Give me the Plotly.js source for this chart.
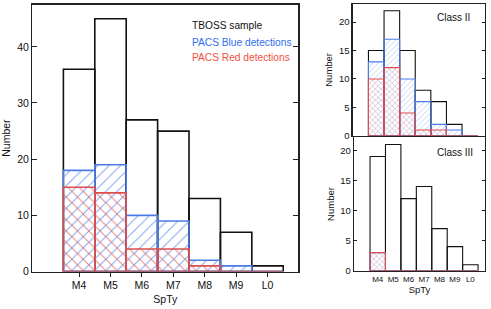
<!DOCTYPE html>
<html><head><meta charset="utf-8">
<script src="https://cdn.plot.ly/plotly-3.0.1.min.js"></script>
<style>html,body{margin:0;padding:0;background:#fff}#plot{width:491px;height:309px}</style>
</head><body><div id="plot"></div>
<script>
// ---- data ----
const categories = ["M4","M5","M6","M7","M8","M9","L0"];
// full sample (left)
const allTboss = [36,45,27,25,13,7,1];
const allBlue  = [18,19,10,9,2,1,0];
const allRed   = [15,14,4,4,1,0,0];
// Class II (top right)
const c2Tboss = [15,22,15,8,6,2,0];
const c2Blue  = [13,17,10,6,2,1,0];
const c2Red   = [10,12,4,1,1,0,0];
// Class III (bottom right)
const c3Tboss = [19,21,12,14,7,4,1];
const c3Blue  = [3,0,0,0,0,0,0];
const c3Red   = [3,0,0,0,0,0,0];
const leftYTicks = [0,10,20,30,40];
const rightYTicks = [0,5,10,15,20];
const edgeTicks = [0.5,2.5,4.5,6.5];

const idx = categories.map((c,i)=>i);
const BLUE = '#4a7ce6', RED = '#dc4d4d';
const FONT = 'Liberation Sans, Arial, sans-serif';

function hist(vals, xa, ya, kind, big){
  const lw = big ? 1.6 : 1.1;
  const psize = big ? 8 : 4;
  let marker;
  if(kind==='t') marker = {color:'rgba(0,0,0,0)', line:{color:'#111', width:lw}};
  else if(kind==='b') marker = {color:'rgba(0,0,0,0)', line:{color:BLUE, width:lw},
      pattern:{shape:'/', fgcolor:BLUE, bgcolor:'rgba(0,0,0,0)', size:psize, solidity:0.12, fgopacity:0.7}};
  else marker = {color:'rgba(0,0,0,0)', line:{color:RED, width:lw},
      pattern:{shape:'\\', fgcolor:RED, bgcolor:'rgba(0,0,0,0)', size:psize, solidity:0.12, fgopacity:0.7}};
  return {type:'bar', x:idx, y:vals, width:1, xaxis:xa, yaxis:ya, marker, hoverinfo:'skip', showlegend:false};
}

const data = [
  hist(allTboss,'x','y','t',true), hist(allBlue,'x','y','b',true), hist(allRed,'x','y','r',true),
  hist(c2Tboss,'x2','y2','t',false), hist(c2Blue,'x2','y2','b',false), hist(c2Red,'x2','y2','r',false),
  hist(c3Tboss,'x3','y3','t',false), hist(c3Blue,'x3','y3','b',false), hist(c3Red,'x3','y3','r',false),
];

const frame = {showline:true, linecolor:'#222', linewidth:1.3, mirror:true, showgrid:false, zeroline:false, fixedrange:true};
function yax(domain, range, ticks, fs, len, anchor){
  return Object.assign({}, frame, {domain, range, tickvals:ticks, ticks:'inside', ticklen:len, tickcolor:'#222',
    mirror:'ticks', anchor, tickfont:{family:FONT,size:fs,color:'#111'},
    title:{text:'Number', font:{family:FONT,size:fs,color:'#111'}, standoff:4}});
}
function xover(domain, range, anchor, overlaying, len){
  return {domain, range, anchor, overlaying, tickvals:edgeTicks, ticks:'inside', ticklen:len, tickcolor:'#222',
    mirror:'ticks', showticklabels:false, showline:false, showgrid:false, zeroline:false, fixedrange:true};
}
const dL=[32.3/491, 298.3/491], rL=[-1.49, 6.98];
const d2=[352.7/491, 484.5/491], r2=[-1.51, 6.94];
const d3=[354/491, 485/491], r3=[-1.54, 6.95];

const layout = {
  width:491, height:309, margin:{l:0,r:0,t:0,b:0}, paper_bgcolor:'#fff', plot_bgcolor:'rgba(0,0,0,0)',
  barmode:'overlay', bargap:0, showlegend:false, font:{family:FONT},
  xaxis: Object.assign({}, frame, {domain:dL, range:rL, anchor:'y', tickvals:idx, ticktext:categories,
    ticks:'outside', ticklen:4, tickcolor:'#222', tickfont:{family:FONT,size:10.5,color:'#111'},
    title:{text:'SpTy', font:{family:FONT,size:10.5,color:'#111'}, standoff:5}}),
  yaxis: yax([(309-271.5)/309, (309-4.7)/309], [0,47.5], leftYTicks, 10.5, 5, 'x'),
  xaxis2: Object.assign({}, frame, {domain:d2, range:r2, anchor:'y2', tickvals:idx, showticklabels:false, ticks:''}),
  yaxis2: yax([(309-135.7)/309, (309-4)/309], [0,23.2], rightYTicks, 9.5, 3, 'x2'),
  xaxis3: Object.assign({}, frame, {domain:d3, range:r3, anchor:'y3', tickvals:idx, ticktext:categories,
    ticks:'', tickfont:{family:FONT,size:8,color:'#111'},
    title:{text:'SpTy', font:{family:FONT,size:9.5,color:'#111'}, standoff:3}}),
  yaxis3: yax([(309-270.7)/309, (309-137.3)/309], [0,22.2], rightYTicks, 9.5, 3, 'x3'),
  xaxis4: xover(dL, rL, 'y', 'x', 5),
  xaxis5: xover(d2, r2, 'y2', 'x2', 3),
  xaxis6: xover(d3, r3, 'y3', 'x3', 3),
  annotations: [
    {text:'TBOSS sample', x:190/491, y:(309-25)/309, xref:'paper', yref:'paper', xanchor:'left', yanchor:'middle', showarrow:false, font:{family:FONT,size:10.2,color:'#111'}},
    {text:'PACS Blue detections', x:190/491, y:(309-42.7)/309, xref:'paper', yref:'paper', xanchor:'left', yanchor:'middle', showarrow:false, font:{family:FONT,size:10.2,color:'#2f6cf0'}},
    {text:'PACS Red detections', x:190/491, y:(309-57.7)/309, xref:'paper', yref:'paper', xanchor:'left', yanchor:'middle', showarrow:false, font:{family:FONT,size:10.2,color:'#f0503c'}},
    {text:'Class II', x:472/491, y:(309-17)/309, xref:'paper', yref:'paper', xanchor:'right', yanchor:'middle', showarrow:false, font:{family:FONT,size:10,color:'#111'}},
    {text:'Class III', x:475/491, y:(309-152)/309, xref:'paper', yref:'paper', xanchor:'right', yanchor:'middle', showarrow:false, font:{family:FONT,size:10,color:'#111'}}
  ]
};
Plotly.newPlot('plot', data, layout, {staticPlot:true, displayModeBar:false});
</script></body></html>
